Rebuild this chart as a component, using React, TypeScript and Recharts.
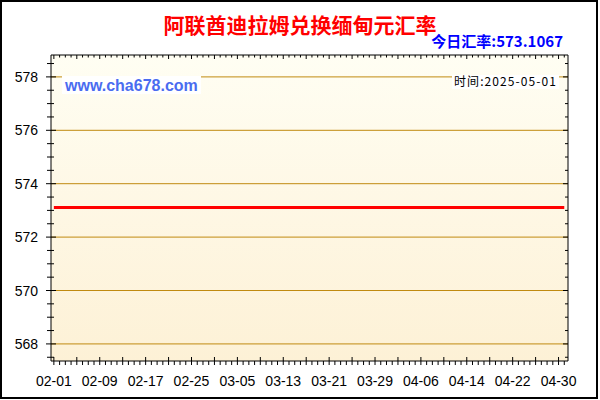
import { LineChart, Line, XAxis, YAxis, CartesianGrid, ReferenceLine } from "recharts"

const DATES = [
  "02-01", "02-02", "02-03", "02-04", "02-05", "02-06", "02-07", "02-08", "02-09", "02-10",
  "02-11", "02-12", "02-13", "02-14", "02-15", "02-16", "02-17", "02-18", "02-19", "02-20",
  "02-21", "02-22", "02-23", "02-24", "02-25", "02-26", "02-27", "02-28", "03-01", "03-02",
  "03-03", "03-04", "03-05", "03-06", "03-07", "03-08", "03-09", "03-10", "03-11", "03-12",
  "03-13", "03-14", "03-15", "03-16", "03-17", "03-18", "03-19", "03-20", "03-21", "03-22",
  "03-23", "03-24", "03-25", "03-26", "03-27", "03-28", "03-29", "03-30", "03-31", "04-01",
  "04-02", "04-03", "04-04", "04-05", "04-06", "04-07", "04-08", "04-09", "04-10", "04-11",
  "04-12", "04-13", "04-14", "04-15", "04-16", "04-17", "04-18", "04-19", "04-20", "04-21",
  "04-22", "04-23", "04-24", "04-25", "04-26", "04-27", "04-28", "04-29", "04-30", "05-01",
]

const RATES = [
  573.1067, 573.1067, 573.1067, 573.1067, 573.1067, 573.1067, 573.1067, 573.1067, 573.1067, 573.1067,
  573.1067, 573.1067, 573.1067, 573.1067, 573.1067, 573.1067, 573.1067, 573.1067, 573.1067, 573.1067,
  573.1067, 573.1067, 573.1067, 573.1067, 573.1067, 573.1067, 573.1067, 573.1067, 573.1067, 573.1067,
  573.1067, 573.1067, 573.1067, 573.1067, 573.1067, 573.1067, 573.1067, 573.1067, 573.1067, 573.1067,
  573.1067, 573.1067, 573.1067, 573.1067, 573.1067, 573.1067, 573.1067, 573.1067, 573.1067, 573.1067,
  573.1067, 573.1067, 573.1067, 573.1067, 573.1067, 573.1067, 573.1067, 573.1067, 573.1067, 573.1067,
  573.1067, 573.1067, 573.1067, 573.1067, 573.1067, 573.1067, 573.1067, 573.1067, 573.1067, 573.1067,
  573.1067, 573.1067, 573.1067, 573.1067, 573.1067, 573.1067, 573.1067, 573.1067, 573.1067, 573.1067,
  573.1067, 573.1067, 573.1067, 573.1067, 573.1067, 573.1067, 573.1067, 573.1067, 573.1067, 573.1067,
]

// labelled y values, and the half-unit minor ticks
const Y_MAJOR = [568, 570, 572, 574, 576, 578]
const Y_TICKS = [
  567.5, 568, 568.5, 569, 569.5, 570, 570.5, 571, 571.5, 572, 572.5, 573, 573.5,
  574, 574.5, 575, 575.5, 576, 576.5, 577, 577.5, 578, 578.5,
]
const X_LABELS = ["02-01", "02-09", "02-17", "02-25", "03-05", "03-13", "03-21", "03-29", "04-06", "04-14", "04-22", "04-30"]

const TITLE = "阿联酋迪拉姆兑换缅甸元汇率"
const TODAY = "今日汇率:573.1067"
const SITE = "www.cha678.com"
const TIME = "时间:2025-05-01"

const data = DATES.map((d, i) => ({ day: i, date: d, rate: RATES[i] }))
const xTicks = DATES.map((_, i) => i)

const LATIN = "'Liberation Sans', Arial, sans-serif"
const CJK = "'Noto Sans CJK SC', sans-serif"

const LeftTick = (props: any) => {
  const { x, y, payload } = props
  const major = Y_MAJOR.includes(payload.value)
  return (
    <g>
      <line x1={x - (major ? 5 : 4)} x2={x + (major ? 5 : 3)} y1={y} y2={y} stroke="#000" />
      {major && (
        <text x={x - 13} y={y} dy="0.36em" textAnchor="end" fontSize={14} fontFamily={LATIN} fill="#000">
          {payload.value}
        </text>
      )}
    </g>
  )
}

const RightTick = (props: any) => {
  const { x, y, payload } = props
  const major = Y_MAJOR.includes(payload.value)
  return <line x1={x - (major ? 5 : 3)} x2={x} y1={y} y2={y} stroke="#000" />
}

const BottomTick = (props: any) => {
  const { x, y, payload } = props
  const i = payload.value
  const tall = i % 4 === 0 && i <= 88
  const label = DATES[i]
  return (
    <g>
      <line x1={x} x2={x} y1={y - (tall ? 4 : 0)} y2={y + 4} stroke="#000" />
      {X_LABELS.includes(label) && (
        <text x={x} y={y + 25} textAnchor="middle" fontSize={14} fontFamily={LATIN} fill="#000">
          {label}
        </text>
      )}
    </g>
  )
}

const TopTick = (props: any) => {
  const { x, y, payload } = props
  const tall = payload.value % 4 === 0
  return <line x1={x} x2={x} y1={y} y2={y + (tall ? 4 : 2.5)} stroke="#000" />
}

export default function App() {
  return (
    <div style={{ position: "relative", width: 600, height: 400, background: "#fff" }}>
      <style>{"body{margin:0}"}</style>
      <LineChart width={600} height={400} data={data} margin={{ top: 0, right: 0, bottom: 0, left: 0 }}>
        <defs>
          <linearGradient id="bg" x1="0" y1="0" x2="0" y2="1">
            <stop offset="0%" stopColor="#fffef3" />
            <stop offset="100%" stopColor="#fdf1d6" />
          </linearGradient>
        </defs>
        <CartesianGrid xAxisId="bottom" yAxisId="left" horizontal={false} vertical={false} fill="url(#bg)" stroke="none" />
        <XAxis
          xAxisId="bottom"
          dataKey="day"
          type="number"
          orientation="bottom"
          domain={[-0.5, 89.65]}
          ticks={xTicks}
          interval={0}
          height={39}
          tickSize={0}
          tickMargin={0}
          tickLine={false}
          axisLine={{ stroke: "#000" }}
          tick={<BottomTick />}
          allowDataOverflow
        />
        <XAxis
          xAxisId="top"
          dataKey="day"
          type="number"
          orientation="top"
          domain={[-0.5, 89.65]}
          ticks={xTicks}
          interval={0}
          height={55}
          tickSize={0}
          tickMargin={0}
          tickLine={false}
          axisLine={{ stroke: "#000" }}
          tick={<TopTick />}
          allowDataOverflow
        />
        <YAxis
          yAxisId="left"
          orientation="left"
          type="number"
          domain={[567.36, 578.82]}
          ticks={Y_TICKS}
          interval={0}
          width={51}
          tickSize={0}
          tickMargin={0}
          tickLine={false}
          axisLine={{ stroke: "#000" }}
          tick={<LeftTick />}
          allowDataOverflow
        />
        <YAxis
          yAxisId="right"
          orientation="right"
          type="number"
          domain={[567.36, 578.82]}
          ticks={Y_TICKS}
          interval={0}
          width={32}
          tickSize={0}
          tickMargin={0}
          tickLine={false}
          axisLine={{ stroke: "#000" }}
          tick={<RightTick />}
          allowDataOverflow
        />
        {Y_MAJOR.map((v) => (
          <ReferenceLine key={v} xAxisId="bottom" yAxisId="left" y={v} stroke="#c08a10" strokeWidth={1} />
        ))}
        <Line
          xAxisId="bottom"
          yAxisId="left"
          type="linear"
          dataKey="rate"
          stroke="#ff0000"
          strokeWidth={3}
          dot={false}
          activeDot={false}
          isAnimationActive={false}
        />
      </LineChart>
      <svg width={600} height={400} style={{ position: "absolute", left: 0, top: 0, pointerEvents: "none" }}>
        <text x={300} y={25} dy="0.36em" textAnchor="middle" fontSize={21} fontWeight="bold" fontFamily={CJK} fill="#ff0000">
          {TITLE}
        </text>
        <text x={563} y={42} dy="0.36em" textAnchor="end" fontSize={15} fontWeight="bold" fontFamily={CJK} fill="#0000ff">
          {TODAY}
        </text>
        <rect x={62} y={76} width={139} height={18} fill="#fff" />
        <text x={65} y={85} dy="0.36em" fontSize={16} fontWeight="bold" fontFamily={LATIN} fill="#4a6cf0">
          {SITE}
        </text>
        <rect x={452} y={75} width={107} height={14} fill="#fff" />
        <text x={454} y={82} dy="0.36em" fontSize={12} fontFamily={CJK} fill="#000" textLength={102} lengthAdjust="spacing">
          {TIME}
        </text>
      </svg>
      <div
        style={{
          position: "absolute",
          left: 0,
          top: 0,
          width: 598,
          height: 399,
          border: "2px solid #000",
          boxSizing: "border-box",
          pointerEvents: "none",
        }}
      />
    </div>
  )
}
